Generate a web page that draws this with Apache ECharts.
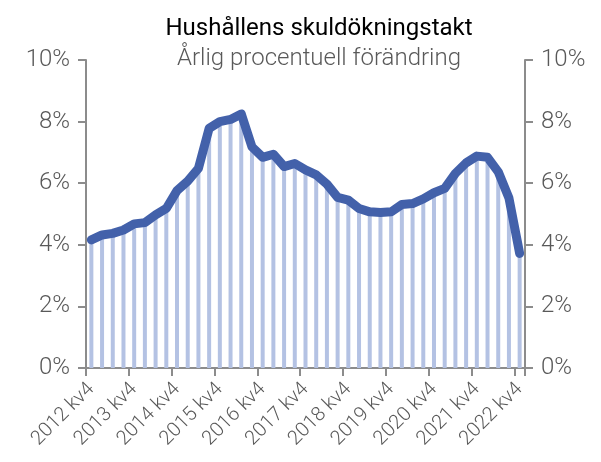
<!DOCTYPE html>
<html>
<head>
<meta charset="utf-8">
<script src="https://cdn.jsdelivr.net/npm/echarts@6/dist/echarts.min.js"></script>
<style>
  html, body { margin: 0; padding: 0; background: #fff; }
  #chart { width: 601px; height: 462px; }
</style>
</head>
<body>
<div id="chart"></div>
<script>
// kvartal, 2012 kv4 - 2022 kv4
var quarters = [
  '2012 kv4',
  '2013 kv1', '2013 kv2', '2013 kv3', '2013 kv4',
  '2014 kv1', '2014 kv2', '2014 kv3', '2014 kv4',
  '2015 kv1', '2015 kv2', '2015 kv3', '2015 kv4',
  '2016 kv1', '2016 kv2', '2016 kv3', '2016 kv4',
  '2017 kv1', '2017 kv2', '2017 kv3', '2017 kv4',
  '2018 kv1', '2018 kv2', '2018 kv3', '2018 kv4',
  '2019 kv1', '2019 kv2', '2019 kv3', '2019 kv4',
  '2020 kv1', '2020 kv2', '2020 kv3', '2020 kv4',
  '2021 kv1', '2021 kv2', '2021 kv3', '2021 kv4',
  '2022 kv1', '2022 kv2', '2022 kv3', '2022 kv4'
];

// årlig procentuell förändring (%)
var growth = [
  4.16,
  4.32, 4.37, 4.48, 4.68,
  4.72, 4.97, 5.18, 5.76,
  6.07, 6.48, 7.78, 8.00,
  8.07, 8.25, 7.18, 6.84,
  6.94, 6.54, 6.64, 6.43,
  6.27, 5.97, 5.54, 5.45,
  5.18, 5.07, 5.05, 5.07,
  5.31, 5.34, 5.49, 5.69,
  5.83, 6.32, 6.66, 6.88,
  6.84, 6.37, 5.52, 3.72
];

var yTicks = { min: 0, max: 10, interval: 2 };

var chartDom = document.getElementById('chart');
var myChart = echarts.init(chartDom, null, { renderer: 'canvas' });
var font = 'Roboto';
var axisColor = '#8c8c8c';
var labelColor = '#595959';

function valueAxis(pos) {
  return {
    type: 'value',
    position: pos,
    min: yTicks.min,
    max: yTicks.max,
    interval: yTicks.interval,
    axisLine: { show: true, lineStyle: { color: axisColor, width: 2 } },
    axisTick: { show: true, length: 8, lineStyle: { color: axisColor, width: 2 } },
    splitLine: { show: false },
    axisLabel: {
      formatter: '{value}%',
      color: labelColor,
      fontFamily: font,
      fontWeight: 300,
      fontSize: 24,
      margin: 16
    }
  };
}

var option = {
  animation: false,
  backgroundColor: '#ffffff',
  title: {
    text: 'Hushållens skuldökningstakt',
    subtext: 'Årlig procentuell förändring',
    left: 314,
    top: 12,
    textAlign: 'center',
    itemGap: 6,
    textStyle: { color: '#000', fontFamily: font, fontWeight: 400, fontSize: 24 },
    subtextStyle: { color: labelColor, fontFamily: font, fontWeight: 300, fontSize: 24 }
  },
  grid: { left: 86, right: 76, top: 60, bottom: 94 },
  xAxis: {
    type: 'category',
    data: quarters,
    boundaryGap: true,
    axisLine: { lineStyle: { color: axisColor, width: 2 } },
    axisTick: { show: true, interval: 3, length: 8, lineStyle: { color: axisColor, width: 2 } },
    axisLabel: {
      interval: 3,
      rotate: 45,
      margin: 18,
      color: labelColor,
      fontFamily: font,
      fontWeight: 300,
      fontSize: 20
    }
  },
  yAxis: [valueAxis('left'), valueAxis('right')],
  series: [
    {
      type: 'bar',
      data: growth,
      barWidth: 4,
      itemStyle: { color: '#b4c2e3' },
      z: 1
    },
    {
      type: 'line',
      data: growth,
      symbol: 'none',
      lineStyle: { color: '#4361aa', width: 9, cap: 'round', join: 'round' },
      z: 2
    }
  ]
};

option && myChart.setOption(option);
</script>
</body>
</html>
